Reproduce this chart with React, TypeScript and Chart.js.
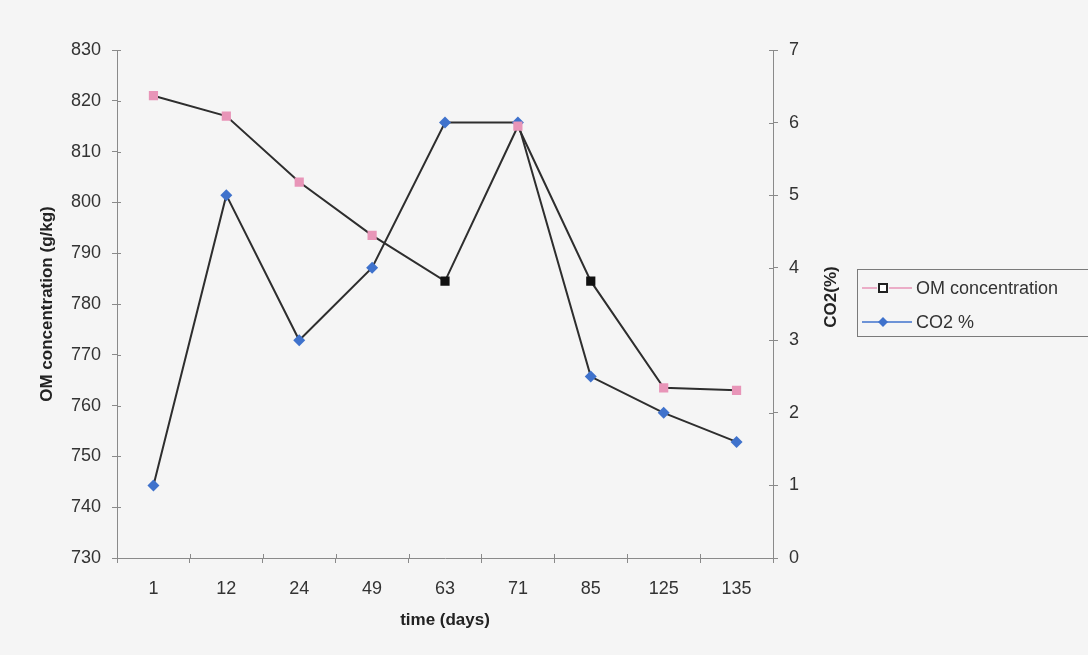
import { useEffect, useRef } from "react";
import { Chart, registerables } from "chart.js";

Chart.register(...registerables);

const days = ["1", "12", "24", "49", "63", "71", "85", "125", "135"];
const omConcentration = [821, 817, 804, 793.5, 784.5, 815, 784.5, 763.5, 763];
const co2Percent = [1, 5, 3, 4, 6, 6, 2.5, 2, 1.6];
const omDarkPointIndices = [4, 6];

const omTicks = { min: 730, max: 830, step: 10 };
const co2Ticks = { min: 0, max: 7, step: 1 };

const PINK = "#e895b8";
const BLUE = "#3f72cc";
const LINE = "#2e2e2e";
const AXIS = "#8a8a8a";
const TEXT = "#333333";
const FONT = "'Liberation Sans', Arial, sans-serif";

const decorPlugin = {
  id: "decor",
  afterDraw(chart: any) {
    const ctx = chart.ctx as CanvasRenderingContext2D;
    const ca = chart.chartArea;
    const xs = chart.scales.x;
    const yl = chart.scales.y;
    const yr = chart.scales.y1;
    ctx.save();
    // inner halves of crossing tick marks
    ctx.strokeStyle = AXIS;
    ctx.lineWidth = 1;
    ctx.beginPath();
    yl.ticks.forEach((_: any, i: number) => {
      const y = Math.round(yl.getPixelForTick(i)) + 0.5;
      ctx.moveTo(ca.left, y);
      ctx.lineTo(ca.left + 4, y);
    });
    yr.ticks.forEach((_: any, i: number) => {
      const y = Math.round(yr.getPixelForTick(i)) + 0.5;
      ctx.moveTo(ca.right - 4, y);
      ctx.lineTo(ca.right, y);
    });
    for (let i = 1; i < days.length; i++) {
      const x = Math.round(xs.getPixelForValue(i - 0.5)) + 0.5;
      ctx.moveTo(x, ca.bottom - 4);
      ctx.lineTo(x, ca.bottom);
    }
    ctx.stroke();

    // right axis title (reads bottom-to-top)
    ctx.fillStyle = "#222";
    ctx.font = `bold 17px ${FONT}`;
    ctx.textAlign = "center";
    ctx.textBaseline = "middle";
    ctx.translate(831, 297);
    ctx.rotate(-Math.PI / 2);
    ctx.fillText("CO2(%)", 0, 0);
    ctx.setTransform(1, 0, 0, 1, 0, 0);

    // legend
    ctx.strokeStyle = "#7a7a7a";
    ctx.lineWidth = 1;
    ctx.strokeRect(857.5, 269.5, 240, 67);
    const r1 = 288;
    const r2 = 322;
    ctx.lineWidth = 1.5;
    ctx.strokeStyle = PINK;
    ctx.beginPath();
    ctx.moveTo(862, r1);
    ctx.lineTo(877, r1);
    ctx.moveTo(889, r1);
    ctx.lineTo(912, r1);
    ctx.stroke();
    ctx.fillStyle = "#ffffff";
    ctx.fillRect(879, r1 - 4, 8, 8);
    ctx.strokeStyle = "#222";
    ctx.lineWidth = 2;
    ctx.strokeRect(879, r1 - 4, 8, 8);
    ctx.strokeStyle = BLUE;
    ctx.lineWidth = 1.5;
    ctx.beginPath();
    ctx.moveTo(862, r2);
    ctx.lineTo(912, r2);
    ctx.stroke();
    ctx.fillStyle = BLUE;
    ctx.beginPath();
    ctx.moveTo(883, r2 - 5);
    ctx.lineTo(888, r2);
    ctx.lineTo(883, r2 + 5);
    ctx.lineTo(878, r2);
    ctx.closePath();
    ctx.fill();
    ctx.fillStyle = TEXT;
    ctx.font = `18px ${FONT}`;
    ctx.textAlign = "left";
    ctx.fillText("OM concentration", 916, r1 + 1);
    ctx.fillText("CO2 %", 916, r2 + 1);
    ctx.restore();
  },
};

export default function App() {
  const ref = useRef<HTMLCanvasElement | null>(null);

  useEffect(() => {
    if (!ref.current) return;
    const omColors = omConcentration.map((_, i) =>
      omDarkPointIndices.includes(i) ? "#111111" : PINK
    );
    const tickFont = { family: FONT, size: 18 };
    const titleFont = { family: FONT, size: 17, weight: "bold" as const };
    const chart = new Chart(ref.current, {
      type: "line",
      data: {
        labels: days,
        datasets: [
          {
            label: "OM concentration",
            data: omConcentration,
            yAxisID: "y",
            borderColor: LINE,
            borderWidth: 2,
            pointStyle: "rect",
            pointRadius: 6.5,
            pointBackgroundColor: omColors,
            pointBorderColor: omColors,
            pointBorderWidth: 0,
            tension: 0,
          },
          {
            label: "CO2 %",
            data: co2Percent,
            yAxisID: "y1",
            borderColor: LINE,
            borderWidth: 2,
            pointStyle: "rectRot",
            pointRadius: 6,
            pointBackgroundColor: BLUE,
            pointBorderColor: BLUE,
            pointBorderWidth: 0,
            tension: 0,
          },
        ],
      },
      options: {
        responsive: false,
        animation: false,
        devicePixelRatio: 1,
        layout: { padding: { left: 33, right: 243, top: 50, bottom: 20 } },
        plugins: { legend: { display: false }, tooltip: { enabled: false } },
        scales: {
          x: {
            type: "category",
            offset: true,
            grid: {
              offset: true,
              drawOnChartArea: false,
              tickLength: 5,
              color: AXIS,
            },
            border: { color: AXIS, width: 1 },
            ticks: { color: TEXT, font: tickFont, padding: 15, maxRotation: 0 },
            title: {
              display: true,
              text: "time (days)",
              color: "#222",
              font: titleFont,
              padding: { top: 0, bottom: 4 },
            },
            afterFit: (s: any) => {
              s.height = 77;
            },
          },
          y: {
            position: "left",
            min: omTicks.min,
            max: omTicks.max,
            grid: { drawOnChartArea: false, tickLength: 5, color: AXIS },
            border: { color: AXIS, width: 1 },
            ticks: { stepSize: omTicks.step, color: TEXT, font: tickFont, padding: 11 },
            title: {
              display: true,
              text: "OM concentration (g/kg)",
              color: "#222",
              font: titleFont,
              padding: { top: 4, bottom: 0 },
            },
            afterFit: (s: any) => {
              s.width = 84;
            },
          },
          y1: {
            position: "right",
            min: co2Ticks.min,
            max: co2Ticks.max,
            grid: { drawOnChartArea: false, tickLength: 5, color: AXIS },
            border: { color: AXIS, width: 1 },
            ticks: { stepSize: co2Ticks.step, color: TEXT, font: tickFont, padding: 11 },
            afterFit: (s: any) => {
              s.width = 72;
            },
          },
        },
      },
      plugins: [decorPlugin],
    });
    return () => chart.destroy();
  }, []);

  return (
    <div
      style={{
        position: "fixed",
        left: 0,
        top: 0,
        width: 1088,
        height: 655,
        background: "#f5f5f5",
      }}
    >
      <canvas ref={ref} width={1088} height={655} />
    </div>
  );
}
